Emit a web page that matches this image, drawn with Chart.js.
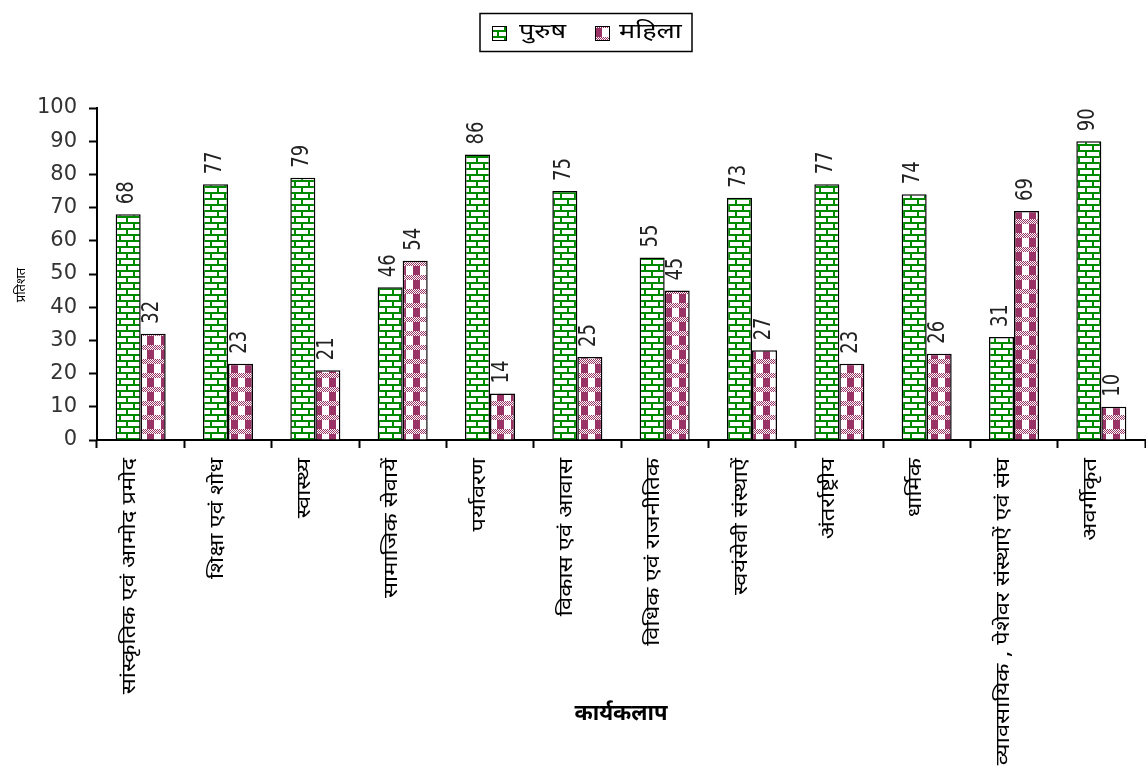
<!DOCTYPE html>
<html>
<head>
<meta charset="utf-8">
<script src="https://cdn.jsdelivr.net/npm/chart.js@4/dist/chart.umd.min.js"></script>
<style>
  html, body { margin: 0; padding: 0; background: #fff; }
  #wrap { position: relative; width: 1146px; height: 774px; }
</style>
</head>
<body>
<div id="wrap"><canvas id="c" width="1146" height="774"></canvas></div>
<script>
// Activity categories
const categories = [
  'सांस्कृतिक एवं आमोद प्रमोद',
  'शिक्षा एवं शोध',
  'स्वास्थ्य',
  'सामाजिक सेवायें',
  'पर्यावरण',
  'विकास एवं आवास',
  'विधिक एवं राजनीतिक',
  'स्वयंसेवी संस्थाऐं',
  'अंतर्राष्ट्रीय',
  'धार्मिक',
  'व्यावसायिक , पेशेवर संस्थाऐं एवं संघ',
  'अवर्गीकृत'
];
const seriesNames = ['पुरुष', 'महिला'];
const maleValues   = [68, 77, 79, 46, 86, 75, 55, 73, 77, 74, 31, 90];
const femaleValues = [32, 23, 21, 54, 14, 25, 45, 27, 23, 26, 69, 10];
const yTicks = [0, 10, 20, 30, 40, 50, 60, 70, 80, 90, 100];
const yTitle = 'प्रतिशत';
const xTitle = 'कार्यकलाप';

const GREEN = '#008a00';
const PLUM = '#993366';
const DEVA = "'Noto Sans Devanagari', 'Lohit Devanagari', 'Mangal', 'Noto Sans', sans-serif";
const NUM_FONT = "'DejaVu Sans', Arial, sans-serif";

// Brick fill: white bricks with green mortar
function brickPattern() {
  const t = document.createElement('canvas');
  t.width = 14; t.height = 12;
  const g = t.getContext('2d');
  g.fillStyle = '#fff'; g.fillRect(0, 0, 14, 12);
  g.fillStyle = GREEN;
  g.fillRect(0, 0, 14, 2);
  g.fillRect(0, 6, 14, 2);
  g.fillRect(0, 2, 2, 4);
  g.fillRect(7, 8, 2, 4);
  return g.createPattern(t, 'repeat');
}
// Check fill: plum squares with dotted bands
function checkPattern() {
  const t = document.createElement('canvas');
  t.width = 14; t.height = 14;
  const g = t.getContext('2d');
  g.fillStyle = '#fff'; g.fillRect(0, 0, 14, 14);
  g.fillStyle = PLUM;
  g.fillRect(7, 0, 7, 9);
  for (let y = 9; y < 14; y++) {
    for (let x = 0; x < 14; x++) {
      if ((x + y) % 2 === 0) g.fillRect(x, y, 1, 1);
    }
  }
  return g.createPattern(t, 'repeat');
}

const fills = [brickPattern(), checkPattern()];

// Values written above each bar, turned on their side
const valueLabels = {
  id: 'valueLabels',
  afterDatasetsDraw(chart) {
    const ctx = chart.ctx;
    ctx.save();
    ctx.font = '18px ' + NUM_FONT;
    ctx.fillStyle = '#222';
    ctx.textAlign = 'left';
    ctx.textBaseline = 'middle';
    chart.data.datasets.forEach((ds, i) => {
      chart.getDatasetMeta(i).data.forEach((bar, j) => {
        ctx.save();
        ctx.translate(bar.x - 1, bar.y - 10);
        ctx.rotate(-Math.PI / 2);
        ctx.scale(1, 1.3);
        ctx.fillText(String(ds.data[j]), 0, 0);
        ctx.restore();
      });
    });
    ctx.restore();
  }
};

// Category names under the axis, and the vertical axis title
const sideTexts = {
  id: 'sideTexts',
  afterDraw(chart) {
    const ctx = chart.ctx;
    const xs = chart.scales.x;
    ctx.save();
    ctx.fillStyle = '#000';
    ctx.font = '19px ' + DEVA;
    ctx.textAlign = 'right';
    ctx.textBaseline = 'middle';
    categories.forEach((name, i) => {
      ctx.save();
      ctx.translate(xs.getPixelForTick(i) - 9, 458);
      ctx.rotate(-Math.PI / 2);
      ctx.scale(1.25, 1);
      ctx.fillText(name, 0, 0);
      ctx.restore();
    });
    ctx.font = '13px ' + DEVA;
    ctx.textAlign = 'center';
    ctx.translate(23, 285);
    ctx.rotate(-Math.PI / 2);
    ctx.fillText(yTitle, 0, 0);
    ctx.restore();
  }
};

// Boxed legend at the top
const boxedLegend = {
  id: 'boxedLegend',
  afterDraw(chart) {
    const ctx = chart.ctx;
    ctx.save();
    ctx.strokeStyle = '#000';
    ctx.lineWidth = 1.5;
    ctx.strokeRect(480, 13.5, 212, 38);
    ctx.textBaseline = 'middle';
    const items = [{x: 492, tx: 519}, {x: 595, tx: 619}];
    items.forEach((it, i) => {
      ctx.fillStyle = fills[i];
      ctx.fillRect(it.x, 26, 14, 14);
      ctx.strokeStyle = '#000';
      ctx.lineWidth = 1;
      ctx.strokeRect(it.x + 0.5, 26.5, 14, 14);
      ctx.save();
      ctx.fillStyle = '#000';
      ctx.font = '20px ' + DEVA;
      ctx.translate(it.tx, 34);
      ctx.scale(1.35, 1);
      ctx.fillText(seriesNames[i], 0, 0);
      ctx.restore();
    });
    ctx.restore();
  }
};

new Chart(document.getElementById('c'), {
  type: 'bar',
  data: {
    labels: categories,
    datasets: [
      { label: seriesNames[0], data: maleValues, backgroundColor: fills[0],
        borderColor: '#000', borderWidth: 1.5, borderSkipped: 'bottom' },
      { label: seriesNames[1], data: femaleValues, backgroundColor: fills[1],
        borderColor: '#000', borderWidth: 1.5, borderSkipped: 'bottom' }
    ]
  },
  options: {
    responsive: false,
    animation: false,
    layout: { padding: { top: 108, right: 1, left: 0, bottom: 0 } },
    datasets: { bar: { categoryPercentage: 0.573, barPercentage: 1 } },
    plugins: { legend: { display: false }, tooltip: { enabled: false } },
    scales: {
      x: {
        grid: { display: true, offset: true, drawOnChartArea: false, drawTicks: true,
                tickLength: 8, color: '#000', tickWidth: 2 },
        border: { display: true, color: '#000', width: 2 },
        ticks: { display: false, autoSkip: false },
        title: { display: true, text: xTitle, color: '#000',
                 font: { family: DEVA, size: 22, weight: 'bold' }, padding: { top: 0, bottom: 45 } },
        afterFit(scale) { scale.height = 334; }
      },
      y: {
        min: 0, max: 100,
        afterBuildTicks(scale) { scale.ticks = yTicks.map(v => ({ value: v })); },
        grid: { display: true, drawOnChartArea: false, drawTicks: true,
                tickLength: 8, color: '#000', tickWidth: 2 },
        border: { display: true, color: '#000', width: 2 },
        ticks: { color: '#333', font: { family: NUM_FONT, size: 21 }, padding: 12 },
        afterFit(scale) { scale.width = 97; }
      }
    }
  },
  plugins: [valueLabels, sideTexts, boxedLegend]
});
</script>
</body>
</html>
